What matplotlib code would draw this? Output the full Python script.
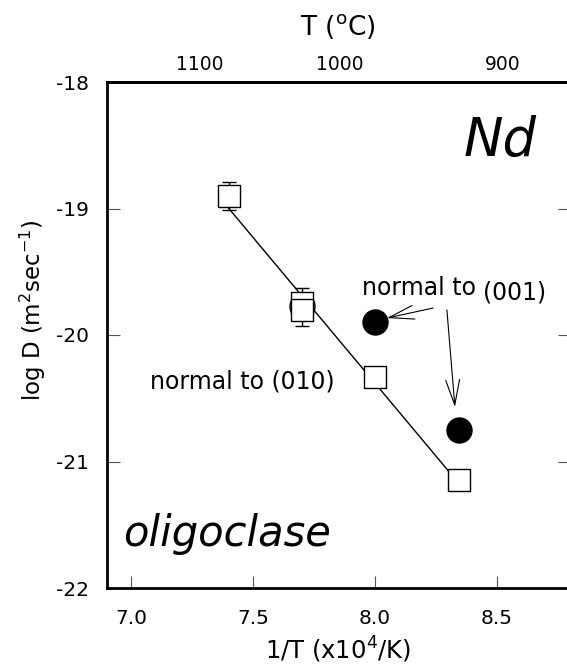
import numpy as np
import matplotlib
matplotlib.use("Agg")
import matplotlib.pyplot as plt

plt.rcParams["font.family"] = ["DejaVu Sans"]
plt.rcParams["mathtext.fontset"] = "dejavusans"
plt.rcParams["axes.unicode_minus"] = False

# Nd diffusion in oligoclase, 1/T in 10^4/K
x_010 = [7.40, 7.70, 7.70, 8.00, 8.345]
logD_010 = [-18.90, -19.75, -19.80, -20.33, -21.15]
err_010 = [0.11, 0.12, 0.13, 0.0, 0.0]

x_001 = [8.00, 8.345]
logD_001 = [-19.90, -20.75]

x_open = [7.70]
logD_open = [-19.77]

temps_c = [1100, 1000, 900]


def inv_t(t_c):
    return 1e4 / (np.asarray(t_c, dtype=float) + 273.15)


fig = plt.figure(figsize=(5.67, 6.69), dpi=100)
W, H = 567.0, 669.0
ax = fig.add_axes([107 / W, (H - 588) / H, (569.6 - 107) / W, (588 - 82) / H])

# least-squares Arrhenius line through the (010) squares
slope, icpt = np.polyfit(x_010, logD_010, 1)
xf = np.array([min(x_010), max(x_010)])
ax.plot(xf, slope * xf + icpt, color="black", lw=1.0, zorder=2)

ax.scatter(x_open, logD_open, s=18 ** 2, marker="o", facecolor="white",
           edgecolor="black", linewidth=1.0, zorder=3)

for xi, yi, ei in zip(x_010, logD_010, err_010):
    if ei > 0:
        ax.errorbar(xi, yi, yerr=ei, fmt="none", ecolor="black",
                    elinewidth=1.0, capsize=5, capthick=1.0, zorder=3)
ax.scatter(x_010, logD_010, s=16.5 ** 2, marker="s", facecolor="white",
           edgecolor="black", linewidth=1.0, zorder=4)

ax.scatter(x_001, logD_001, s=18 ** 2, marker="o", color="black", zorder=4)

ax.set_xlim(6.9, 8.8)
ax.set_ylim(-22, -18)
ax.set_xticks([7.0, 7.5, 8.0, 8.5])
ax.set_xticklabels(["7.0", "7.5", "8.0", "8.5"])
ax.set_yticks([-22, -21, -20, -19, -18])

for s in ax.spines.values():
    s.set_linewidth(2.0)
ax.tick_params(axis="both", direction="in", length=9, width=0.8,
               color="#555555", labelsize=14.5)
ax.tick_params(axis="y", right=True, pad=13)
ax.tick_params(axis="x", pad=15)

ax.set_xlabel(r"1/T (x10$^{4}$/K)", fontsize=17.5, labelpad=5)
ax.set_ylabel(r"log D (m$^{2}$sec$^{-1}$)", fontsize=16.5)
ax.yaxis.set_label_coords(-0.128, 0.549)

# upper axis in degrees C
sec = ax.secondary_xaxis("top", functions=(lambda x: x, lambda x: x))
sec.set_xticks(inv_t(temps_c))
sec.set_xticklabels([str(t) for t in temps_c])
sec.tick_params(length=0, labelsize=13.5, pad=6)
sec.spines["top"].set_linewidth(2.0)
sec.set_xlabel(r"T ($^{\rm o}$C)", fontsize=19, labelpad=14)

ax.text(8.666, -18.585, "Nd", fontsize=38, style="italic", ha="right", va="baseline")
ax.text(6.966, -21.668, "oligoclase", fontsize=30, style="italic", ha="left", va="baseline")
ax.text(7.077, -20.42, "normal to (010)", fontsize=17, ha="left", va="baseline")
ax.text(7.947, -19.684, "normal to", fontsize=17, ha="left", va="baseline")
ax.text(8.444, -19.72, "(001)", fontsize=17, ha="left", va="baseline")

arrow = dict(arrowstyle="->,head_length=1.8,head_width=0.5", color="black",
             lw=0.8, shrinkA=0, shrinkB=0, mutation_scale=10)
ax.annotate("", xy=(8.050, -19.866), xytext=(8.239, -19.787), arrowprops=arrow)
ax.annotate("", xy=(8.329, -20.569), xytext=(8.296, -19.802), arrowprops=arrow)

fig.savefig("out.png", dpi=100)
